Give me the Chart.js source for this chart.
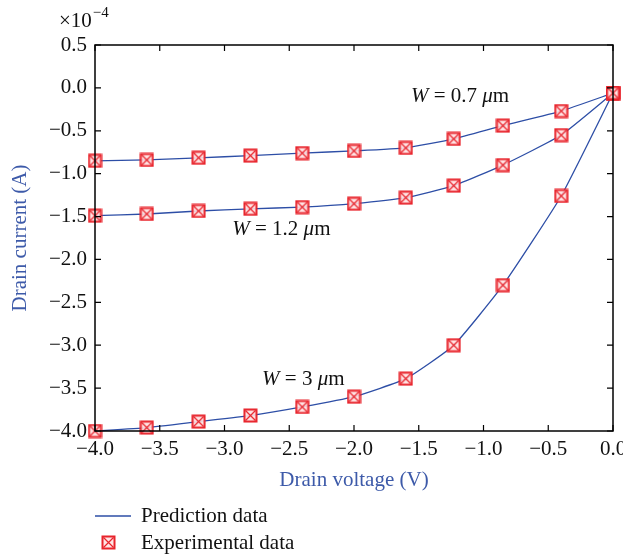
<!DOCTYPE html>
<html lang="en">
<head>
    <meta charset="UTF-8">
    <title>Drain current vs drain voltage</title>
    <script src="https://cdn.jsdelivr.net/npm/chart.js@4.4.0/dist/chart.umd.min.js"></script>
    <style>
        html, body { margin: 0; padding: 0; background: #fff; }
        #wrap { width: 623px; height: 556px; }
    </style>
</head>
<body>
<div id="wrap"><canvas id="chart"></canvas></div>

<script>
    // drain voltage (V)
    var voltage = [-4.0, -3.6, -3.2, -2.8, -2.4, -2.0, -1.6, -1.23, -0.85, -0.4, 0.0];
    // drain current, in units of 1e-4 A
    var currentW07 = [-0.85, -0.84, -0.815, -0.79, -0.76, -0.735, -0.70, -0.595, -0.44, -0.27, -0.06];
    var currentW12 = [-1.49, -1.47, -1.435, -1.41, -1.39, -1.35, -1.28, -1.14, -0.90, -0.55, -0.06];
    var currentW3 = [-4.0, -3.96, -3.89, -3.82, -3.72, -3.60, -3.39, -3.00, -2.30, -1.26, -0.06];
    var xTicks = [-4.0, -3.5, -3.0, -2.5, -2.0, -1.5, -1.0, -0.5, 0.0];
    var yTicks = [0.5, 0.0, -0.5, -1.0, -1.5, -2.0, -2.5, -3.0, -3.5, -4.0];

    var lineBlue = '#2d4ea6';
    var markRed = '#e8232b';
    var titleBlue = '#3d5aa9';
    var serif = '"Liberation Serif", "DejaVu Serif", serif';
    var fs = 21;

    function pts(ys) {
        return voltage.map(function (v, i) { return {x: v, y: ys[i]}; });
    }

    function fmt(v) {
        return v.toFixed(1).replace('-', '\u2212');
    }

    // boxed-cross marker
    function makeMarker() {
        var c = document.createElement('canvas');
        c.width = 15; c.height = 15;
        var g = c.getContext('2d');
        g.fillStyle = 'rgba(255,225,225,0.9)';
        g.fillRect(1, 1, 13, 13);
        g.strokeStyle = markRed;
        g.lineWidth = 2;
        g.strokeRect(1.5, 1.5, 12, 12);
        g.lineWidth = 1.2;
        g.beginPath();
        g.moveTo(2.5, 2.5); g.lineTo(12.5, 12.5);
        g.moveTo(12.5, 2.5); g.lineTo(2.5, 12.5);
        g.stroke();
        return c;
    }
    var marker = makeMarker();

    function lineSet(ys) {
        return {
            data: pts(ys), showLine: true, borderColor: lineBlue, borderWidth: 1.3,
            pointRadius: 0, tension: 0.15, clip: false, order: 2
        };
    }

    function markSet(ys) {
        return {
            data: pts(ys), showLine: false, pointStyle: marker, pointRadius: 7,
            clip: false, order: 1
        };
    }

    var boxPlugin = {
        id: 'boxTicks',
        afterDatasetsDraw: function (chart) {
            var ctx = chart.ctx, a = chart.chartArea;
            var xs = chart.scales.x, ys = chart.scales.y;
            ctx.save();
            ctx.strokeStyle = '#000';
            ctx.lineWidth = 1.5;
            ctx.strokeRect(a.left, a.top, a.right - a.left, a.bottom - a.top);
            ctx.lineWidth = 1.2;
            ctx.beginPath();
            xs.ticks.forEach(function (t) {
                var px = xs.getPixelForValue(t.value);
                ctx.moveTo(px, a.bottom); ctx.lineTo(px, a.bottom - 6);
                ctx.moveTo(px, a.top); ctx.lineTo(px, a.top + 6);
            });
            ys.ticks.forEach(function (t) {
                var py = ys.getPixelForValue(t.value);
                ctx.moveTo(a.left, py); ctx.lineTo(a.left + 6, py);
                ctx.moveTo(a.right, py); ctx.lineTo(a.right - 6, py);
            });
            ctx.stroke();
            ctx.restore();
        },
        afterDraw: function (chart) {
            var ctx = chart.ctx;
            var xs = chart.scales.x, ys = chart.scales.y;
            ctx.save();
            ctx.fillStyle = '#111';
            ctx.textBaseline = 'alphabetic';

            // x10^-4 multiplier
            ctx.font = fs + 'px ' + serif;
            ctx.textAlign = 'left';
            ctx.fillText('\u00d710', 59, 27);
            var mw = ctx.measureText('\u00d710').width;
            ctx.font = '15px ' + serif;
            ctx.fillText('\u22124', 59 + mw + 1, 17);

            // curve labels
            function label(txt, cx, cy) {
                var px = xs.getPixelForValue(cx), py = ys.getPixelForValue(cy);
                ctx.font = 'italic ' + fs + 'px ' + serif;
                ctx.textAlign = 'left';
                ctx.fillText('W', px, py);
                var w = ctx.measureText('W').width;
                ctx.font = fs + 'px ' + serif;
                var s = ' = ' + txt + ' ';
                ctx.fillText(s, px + w, py);
                var w2 = ctx.measureText(s).width;
                ctx.font = 'italic ' + fs + 'px ' + serif;
                ctx.fillText('\u03bc', px + w + w2, py);
                var w3 = ctx.measureText('\u03bc').width;
                ctx.font = fs + 'px ' + serif;
                ctx.fillText('m', px + w + w2 + w3, py);
            }
            label('0.7', -1.56, -0.17);
            label('1.2', -2.94, -1.72);
            label('3', -2.71, -3.46);

            // legend
            ctx.strokeStyle = lineBlue;
            ctx.lineWidth = 1.3;
            ctx.beginPath();
            ctx.moveTo(95, 516); ctx.lineTo(131, 516);
            ctx.stroke();
            ctx.drawImage(marker, 101, 535);
            ctx.fillStyle = '#111';
            ctx.font = fs + 'px ' + serif;
            ctx.textAlign = 'left';
            ctx.textBaseline = 'middle';
            ctx.fillText('Prediction data', 141, 516);
            ctx.fillText('Experimental data', 141, 543);
            ctx.restore();
        }
    };

    new Chart(document.getElementById('chart'), {
        type: 'scatter',
        data: {
            datasets: [
                lineSet(currentW07), lineSet(currentW12), lineSet(currentW3),
                markSet(currentW07), markSet(currentW12), markSet(currentW3)
            ]
        },
        options: {
            responsive: true,
            maintainAspectRatio: false,
            animation: false,
            layout: {padding: {top: 45, right: 10, left: 0, bottom: 63}},
            plugins: {legend: {display: false}, tooltip: {enabled: false}},
            scales: {
                x: {
                    type: 'linear', min: -4, max: 0,
                    afterBuildTicks: function (s) { s.ticks = xTicks.map(function (v) { return {value: v}; }); },
                    afterFit: function (s) { s.height = 62; s.paddingLeft = 0; s.paddingRight = 0; },
                    grid: {display: false, drawTicks: false},
                    border: {display: false},
                    ticks: {
                        color: '#111', padding: 6, maxRotation: 0,
                        font: {family: serif, size: fs},
                        callback: function (v) { return fmt(v); }
                    },
                    title: {
                        display: true, text: 'Drain voltage (V)', color: titleBlue,
                        font: {family: serif, size: fs}, padding: {top: 4, bottom: 0}
                    }
                },
                y: {
                    type: 'linear', min: -4, max: 0.5,
                    afterBuildTicks: function (s) { s.ticks = yTicks.map(function (v) { return {value: v}; }); },
                    afterFit: function (s) { s.width = 95; s.paddingTop = 0; s.paddingBottom = 0; },
                    grid: {display: false, drawTicks: false},
                    border: {display: false},
                    ticks: {
                        color: '#111', padding: 8,
                        font: {family: serif, size: fs},
                        callback: function (v) { return fmt(v); }
                    },
                    title: {
                        display: true, text: 'Drain current (A)', color: titleBlue,
                        font: {family: serif, size: fs}, padding: {top: 8, bottom: 2}
                    }
                }
            }
        },
        plugins: [boxPlugin]
    });
</script>
</body>
</html>
